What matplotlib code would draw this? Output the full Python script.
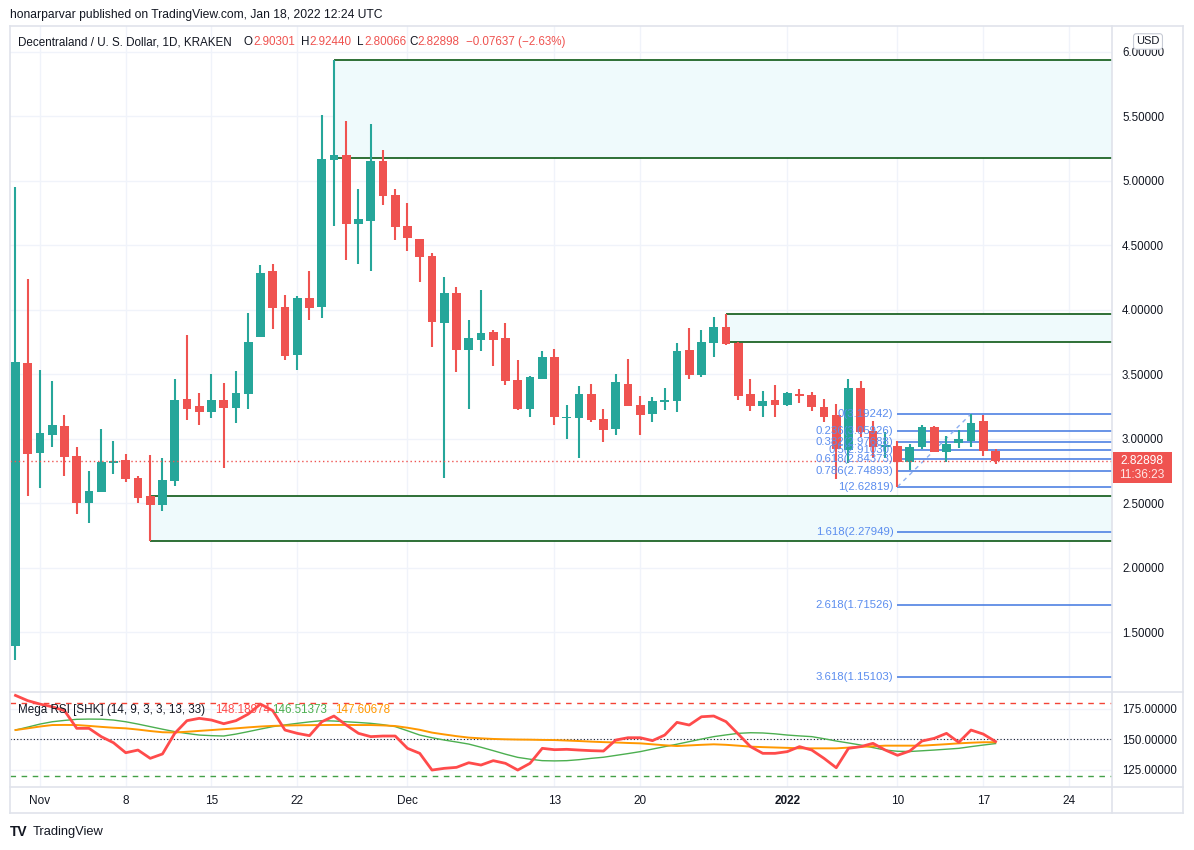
import matplotlib
matplotlib.use('Agg')  # no display

import numpy as np
import matplotlib.pyplot as plt
import matplotlib.transforms as mtransforms
from matplotlib.patches import Rectangle
from matplotlib.lines import Line2D

plt.rcParams['font.family'] = ['Liberation Sans', 'DejaVu Sans']

W, H = 1194, 850

# daily candles, Oct 30 2021 .. Jan 18 2022
opens = [1.396, 3.588, 2.890, 3.030, 3.099, 2.867, 2.502, 2.588, 2.812, 2.833,
         2.696, 2.557, 2.489, 2.675, 3.309, 3.254, 3.210, 3.301, 3.241, 3.350,
         3.791, 4.301, 4.022, 3.652, 4.092, 4.024, 5.164, 5.200, 4.667, 4.691,
         5.153, 4.890, 4.650, 4.549, 4.417, 3.900, 4.130, 3.691, 3.768, 3.828,
         3.781, 3.456, 3.233, 3.466, 3.634, 3.164, 3.164, 3.347, 3.156, 3.078,
         3.425, 3.262, 3.195, 3.282, 3.295, 3.688, 3.497, 3.745, 3.867, 3.745,
         3.347, 3.257, 3.301, 3.264, 3.347, 3.340, 3.249, 3.184, 2.916, 3.394,
         3.062, 2.936, 2.944, 2.818, 2.936, 3.091, 2.895, 2.965, 2.983, 3.138,
         2.90301]
highs = [4.952, 4.239, 3.533, 3.448, 3.184, 2.936, 2.748, 3.076, 2.983, 2.882,
         2.711, 2.874, 2.853, 3.464, 3.805, 3.355, 3.502, 3.433, 3.526, 3.975,
         4.347, 4.355, 4.115, 4.107, 4.301, 5.510, 5.936, 5.464, 4.936, 5.441,
         5.239, 4.936, 4.828, 4.549, 4.440, 4.254, 4.177, 3.923, 4.156, 3.843,
         3.898, 3.611, 3.489, 3.681, 3.696, 3.262, 3.409, 3.425, 3.233, 3.505,
         3.619, 3.332, 3.324, 3.394, 3.740, 3.859, 3.843, 3.944, 3.967, 3.750,
         3.466, 3.373, 3.417, 3.360, 3.386, 3.363, 3.309, 3.270, 3.464, 3.448,
         3.137, 3.050, 2.983, 2.960, 3.107, 3.099, 3.022, 3.068, 3.192, 3.184,
         2.92440]
lows = [1.285, 2.559, 2.621, 2.939, 2.714, 2.419, 2.350, 2.588, 2.727, 2.665,
        2.502, 2.205, 2.440, 2.636, 3.148, 3.109, 3.164, 2.776, 3.125, 3.233,
        3.791, 3.854, 3.613, 3.536, 3.923, 3.939, 4.652, 4.388, 4.357, 4.303,
        4.815, 4.543, 4.458, 4.218, 3.714, 2.698, 3.520, 3.233, 3.683, 3.567,
        3.419, 3.226, 3.171, 3.466, 3.109, 3.001, 2.853, 3.133, 2.978, 3.032,
        3.257, 3.032, 3.133, 3.226, 3.210, 3.466, 3.481, 3.636, 3.729, 3.303,
        3.218, 3.171, 3.171, 3.257, 3.280, 3.218, 3.133, 2.686, 2.815, 3.016,
        2.850, 2.852, 2.628, 2.760, 2.921, 2.895, 2.823, 2.926, 2.934, 2.869,
        2.80066]
closes = [3.595, 2.884, 3.045, 3.107, 2.859, 2.502, 2.596, 2.819, 2.828, 2.688,
          2.541, 2.489, 2.681, 3.301, 3.231, 3.210, 3.301, 3.241, 3.355, 3.750,
          4.285, 4.016, 3.644, 4.092, 4.016, 5.169, 5.200, 4.667, 4.704, 5.153,
          4.885, 4.644, 4.559, 4.412, 3.908, 4.130, 3.691, 3.781, 3.820, 3.768,
          3.450, 3.233, 3.479, 3.634, 3.171, 3.170, 3.347, 3.148, 3.071, 3.440,
          3.257, 3.187, 3.293, 3.300, 3.681, 3.497, 3.750, 3.867, 3.737, 3.334,
          3.257, 3.293, 3.264, 3.355, 3.332, 3.249, 3.171, 2.918, 3.395, 3.050,
          2.934, 2.950, 2.818, 2.936, 3.091, 2.895, 2.960, 2.998, 3.122, 2.903,
          2.82898]

# Mega RSI [SHK] lines
rsi_red = [186.0, 181.7, 178.9, 176.7, 173.5, 159.0, 159.0, 152.2, 147.2, 139.0,
           141.2, 134.4, 138.0, 154.9, 165.3, 167.2, 165.8, 162.8, 165.3, 170.7,
           178.9, 173.5, 157.6, 154.9, 153.0, 164.4, 169.1, 161.7, 154.9, 152.2,
           152.7, 152.7, 142.6, 138.5, 124.8, 126.2, 127.0, 130.8, 128.9, 132.5,
           130.3, 124.8, 130.3, 142.6, 141.5, 141.8, 141.2, 140.7, 140.4, 149.4,
           151.3, 151.3, 148.9, 153.5, 163.9, 161.7, 168.5, 169.1, 164.5, 154.3,
           144.0, 138.5, 138.5, 139.9, 144.0, 141.2, 134.4, 126.7, 142.6, 144.0,
           146.7, 141.2, 136.9, 140.4, 148.6, 150.8, 154.9, 147.5, 157.6, 154.3,
           148.19]
rsi_green = [157.6, 160.0, 162.5, 164.4, 165.5, 166.4, 166.6, 166.5, 165.8, 164.4,
             162.5, 160.4, 158.3, 156.3, 154.8, 153.5, 153.0, 152.7, 154.3, 156.3,
             158.4, 160.4, 161.8, 163.1, 164.3, 165.3, 165.0, 164.4, 163.8, 163.1,
             162.0, 160.4, 157.0, 153.5, 151.3, 149.4, 147.8, 146.1, 143.5, 140.7,
             137.8, 135.2, 133.7, 132.5, 132.3, 132.5, 133.3, 134.4, 135.3, 136.8,
             138.3, 139.9, 142.0, 144.0, 146.0, 148.1, 150.2, 152.2, 153.6, 154.9,
             155.4, 155.2, 154.5, 153.5, 152.8, 152.2, 150.5, 148.6, 147.0, 145.3,
             143.2, 141.2, 140.2, 140.0, 140.6, 141.2, 141.9, 142.6, 144.0, 145.3,
             146.51]
rsi_orange = [157.6, 159.0, 160.5, 161.7, 161.8, 161.7, 161.0, 160.2, 159.5, 159.0,
              158.0, 156.8, 155.8, 155.6, 156.2, 156.9, 157.6, 158.3, 159.0, 159.8,
              160.5, 161.0, 161.3, 161.5, 161.6, 161.7, 161.8, 161.8, 161.7, 161.7,
              161.4, 160.9, 159.5, 157.8, 155.5, 154.0, 152.6, 151.4, 150.8, 150.3,
              150.0, 149.8, 149.7, 149.5, 149.4, 149.0, 148.6, 148.1, 147.7, 147.4,
              147.0, 146.7, 145.9, 145.1, 144.5, 145.0, 145.5, 145.9, 145.5, 144.8,
              144.0, 143.6, 143.3, 143.0, 142.6, 142.6, 142.6, 142.6, 143.2, 143.8,
              144.3, 144.8, 144.8, 144.8, 144.8, 145.4, 146.0, 146.7, 147.2, 147.6,
              147.61]

price_ticks = [1.5, 2.0, 2.5, 3.0, 3.5, 4.0, 4.5, 5.0, 5.5, 6.0]
rsi_ticks = [125, 150, 175]
date_ticks = [2, 9, 16, 23, 32, 44, 51, 63, 72, 79, 86]
date_labels = ['Nov', '8', '15', '22', 'Dec', '13', '20', '2022', '10', '17', '24']

# supply / demand zones
zone_start = [26, 58, 11]
zone_top = [5.936, 3.965, 2.555]
zone_bottom = [5.176, 3.749, 2.206]

# fib extension drawn from the Jan 10 low to the Jan 16 high
fib_labels = ['0', '0.236', '0.382', '0.5', '0.618', '0.786', '1', '1.618', '2.618', '3.618']
fib_prices = [3.19242, 3.05926, 2.97688, 2.91030, 2.84373, 2.74893, 2.62819, 2.27949, 1.71526, 1.15103]
fib_start, fib_end = 72, 78
last_price = 2.82898

GREEN = '#26a69a'
RED = '#ef5350'
TXT = '#131722'
GRID = '#f0f3fa'


def fx(x):
    return x / W


def fy(y):
    return 1 - y / H


fig = plt.figure(figsize=(W / 100, H / 100), dpi=100)
ax = fig.add_axes([fx(9.6), fy(692), (1112 - 9.6) / W, (692 - 26) / H])
ax2 = fig.add_axes([fx(9.6), fy(787), (1112 - 9.6) / W, (787 - 692) / H], sharex=ax)

x = np.arange(len(opens))
o = np.array(opens)
c = np.array(closes)
colors = np.where(c >= o, GREEN, RED)

# candles
ax.vlines(x, lows, highs, colors=colors, lw=1.5, zorder=3)
ax.bar(x, np.maximum(np.abs(c - o), 0.008), bottom=np.minimum(o, c), width=0.72,
       color=colors, linewidth=0, zorder=4)

# zones
for s, t, b in zip(zone_start, zone_top, zone_bottom):
    ax.add_patch(Rectangle((s, b), 200, t - b, facecolor='#effafc', edgecolor='none', zorder=1))
    ax.hlines([t, b], s, 200, colors='#1e6426', lw=1.3, zorder=2)

# fib levels
ax.hlines(fib_prices, fib_start, 200, colors='#4f82e3', lw=1.2, zorder=2.5)
for lab, p in zip(fib_labels, fib_prices):
    ax.annotate(f'{lab}({p:.5f})', (fib_start, p), xytext=(-4, 0), textcoords='offset pixels',
                ha='right', va='center', color='#5b8def', fontsize=8.2, zorder=6)
ax.plot([fib_start, fib_end], [fib_prices[6], fib_prices[0]], color='#8fb0f0',
        ls=(0, (3, 3)), lw=1, zorder=2.5)

# last price line + label
ax.axhline(last_price, color=RED, ls=(0, (1, 2)), lw=1, zorder=5)
tr = mtransforms.blended_transform_factory(ax.transAxes, ax.transData)
bw = 59.2 / 1102.4
ax.add_patch(Rectangle((1.0005, last_price - 22 / 129), bw, 31 / 129, transform=tr,
                       facecolor=RED, edgecolor='none', clip_on=False, zorder=6))
ax.text(1.0005 + bw / 2, last_price, f'{last_price:.5f}', transform=tr, ha='center',
        va='center', color='white', fontsize=8.6, zorder=7)
ax.text(1.0005 + bw / 2, last_price - 14 / 129, '11:36:23', transform=tr, ha='center',
        va='center', color='#ffe5e5', fontsize=8.6, zorder=7)

ax.set_xlim(-0.48, 89.51)
ax.set_ylim(1.037, 6.200)
ax.yaxis.tick_right()
ax.set_yticks(price_ticks)
ax.set_yticklabels([f'{v:.5f}' for v in price_ticks])
ax.tick_params(axis='y', length=0, pad=7.2, labelsize=8.3, labelcolor=TXT)
ax.tick_params(axis='x', length=0, labelbottom=False)
ax.grid(True, color=GRID, lw=1)
ax.set_axisbelow(True)

# RSI pane
ax2.plot(x, rsi_green, color='#4caf50', lw=1, zorder=3)
ax2.plot(x, rsi_orange, color='#ff9800', lw=1.4, zorder=3)
ax2.plot(x, rsi_red, color='#ff4b4b', lw=2, zorder=4)
ax2.axhline(180, color='#f44336', ls=(0, (4, 4)), lw=1)
ax2.axhline(120, color='#43a047', ls=(0, (4, 4)), lw=1)
ax2.axhline(150, color=TXT, ls=(0, (1, 2)), lw=0.8)
ax2.set_ylim(110.9, 188.8)
ax2.yaxis.tick_right()
ax2.set_yticks(rsi_ticks)
ax2.set_yticklabels([f'{v:.5f}' for v in rsi_ticks])
ax2.tick_params(axis='y', length=0, pad=7.2, labelsize=8.3, labelcolor=TXT)
ax2.set_xticks(date_ticks)
ax2.set_xticklabels(date_labels)
ax2.tick_params(axis='x', length=0, pad=6, labelsize=8.5, labelcolor=TXT)
ax2.get_xticklabels()[date_labels.index('2022')].set_fontweight('bold')
ax2.grid(True, color=GRID, lw=1)
ax2.set_axisbelow(True)

for a in (ax, ax2):
    for sp in a.spines.values():
        sp.set_visible(False)

# chart frame
frame = '#e0e3eb'
for (x0, y0, x1, y1) in [(9.6, 25.7, 1183, 25.7), (9.6, 813, 1183, 813), (9.6, 25.7, 9.6, 813),
                         (1183, 25.7, 1183, 813), (1112, 25.7, 1112, 813),
                         (9.6, 692, 1183, 692), (9.6, 787, 1183, 787)]:
    fig.add_artist(Line2D([fx(x0), fx(x1)], [fy(y0), fy(y1)], color=frame, lw=1.2))

# texts
fs = 8.4
fig.text(fx(10), fy(15), 'honarparvar published on TradingView.com, Jan 18, 2022 12:24 UTC',
         fontsize=8.7, color=TXT, va='center')
leg_y = fy(42.3)
fig.text(fx(18.4), leg_y, 'Decentraland / U. S. Dollar, 1D, KRAKEN', fontsize=fs, color=TXT, va='center')
for lx, letter, vx, val in [(244, 'O', 253, '2.90301'), (301, 'H', 309, '2.92440'),
                            (357, 'L', 364, '2.80066'), (409, 'C', 417, '2.82898')]:
    fig.text(fx(lx), leg_y, letter, fontsize=fs, color=TXT, va='center')
    fig.text(fx(vx), leg_y, val, fontsize=fs, color=RED, va='center')
fig.text(fx(466), leg_y, '\u22120.07637 (\u22122.63%)', fontsize=fs, color=RED, va='center')

ry = fy(710)
fig.text(fx(18.4), ry, 'Mega RSI [SHK] (14, 9, 3, 3, 13, 33)', fontsize=fs, color=TXT, va='center')
fig.text(fx(215), ry, '148.18974', fontsize=fs, color='#ff4b4b', va='center')
fig.text(fx(272.5), ry, '146.51373', fontsize=fs, color='#4caf50', va='center')
fig.text(fx(335), ry, '147.60678', fontsize=fs, color='#ff9800', va='center')

fig.text(fx(1148), fy(41.5), 'USD', ha='center', va='center', fontsize=8, color=TXT,
         bbox=dict(boxstyle='round,pad=0.25', fc='white', ec='#c8ccd6', lw=0.8))

fig.text(fx(10), fy(832), 'TV', fontsize=10, fontweight='bold', color=TXT, va='center')
fig.text(fx(33), fy(832), 'TradingView', fontsize=9.3, color=TXT, va='center')

fig.savefig('out.png', dpi=100, facecolor='white')
plt.close(fig)
